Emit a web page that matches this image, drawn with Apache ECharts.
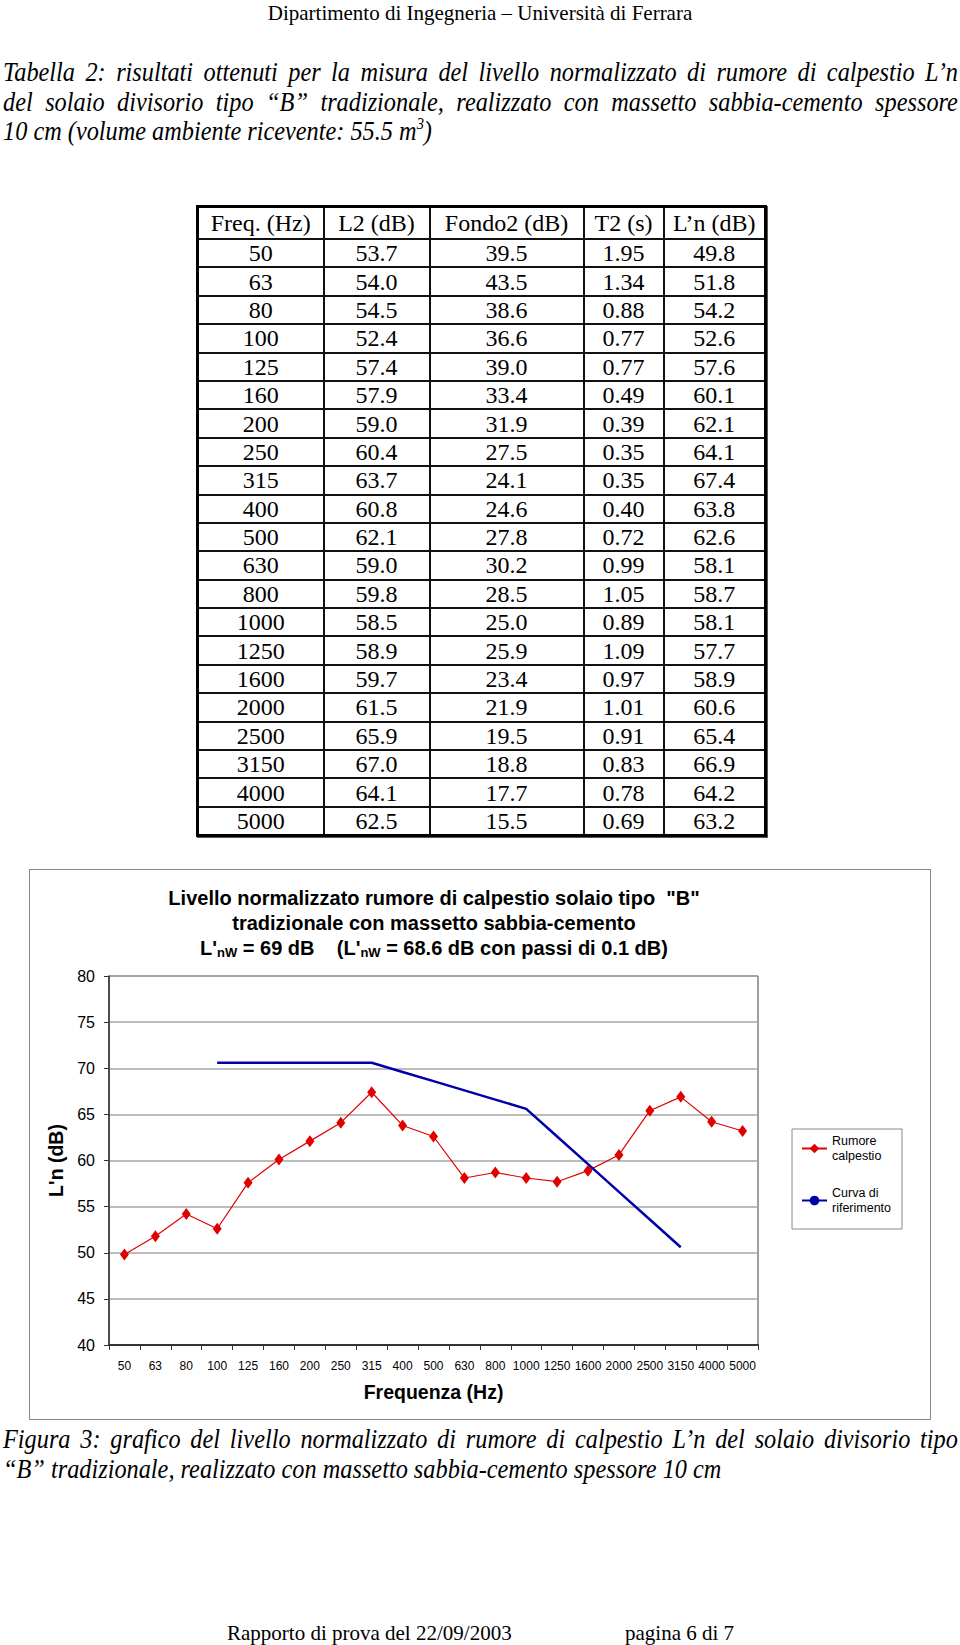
<!DOCTYPE html>
<html><head><meta charset="utf-8">
<script src="https://cdn.jsdelivr.net/npm/echarts@6/dist/echarts.min.js"></script>
<style>
html,body{margin:0;padding:0;background:#fff;}
body{width:960px;height:1645px;position:relative;overflow:hidden;font-family:"Liberation Serif","Times New Roman",serif;color:#000;}
#hdr{position:absolute;left:0;top:0;width:960px;text-align:center;font-size:21px;line-height:26px;}
.cap{position:absolute;left:3px;width:1061px;font-style:italic;font-size:27px;line-height:29.5px;transform:scaleX(0.9);transform-origin:0 0;}
.cap div{white-space:nowrap;}
.cap .j{text-align:justify;text-align-last:justify;}
.cap sup{font-size:16px;vertical-align:11px;line-height:0;}
#tbl{position:absolute;left:196px;top:205px;border-collapse:collapse;table-layout:fixed;width:568px;font-size:24px;border:3px solid #000;box-shadow:1px 1px 0 #555;}
#tbl td{border:2px solid #111;text-align:center;padding:0;line-height:24px;}
#tbl tr.h td{height:30px;}
#tbl tr.d td{height:26.4px;}
#chartbox{position:absolute;left:29px;top:869px;width:902px;height:551px;border:1px solid #8a8a8a;box-sizing:border-box;}
#chart{width:900px;height:549px;}
.foot{position:absolute;top:1620px;font-size:21px;line-height:26px;}
</style></head>
<body>
<div id="hdr">Dipartimento di Ingegneria – Università di Ferrara</div>
<div class="cap" style="top:58px">
<div class="j">Tabella 2: risultati ottenuti per la misura del livello normalizzato di rumore di calpestio L’n</div>
<div class="j">del solaio divisorio tipo “B” tradizionale, realizzato con massetto sabbia-cemento spessore</div>
<div>10 cm (volume ambiente ricevente: 55.5 m<sup>3</sup>)</div>
</div>
<table id="tbl"></table>
<div id="chartbox"><div id="chart"></div></div>
<div class="cap" style="top:1425px">
<div class="j">Figura 3: grafico del livello normalizzato di rumore di calpestio L’n del solaio divisorio tipo</div>
<div>“B” tradizionale, realizzato con massetto sabbia-cemento spessore 10 cm</div>
</div>
<div class="foot" style="left:227px">Rapporto di prova del 22/09/2003</div>
<div class="foot" style="left:625px">pagina 6 di 7</div>
<script>
// ---- data ----
var tableHeader = ["Freq. (Hz)", "L2 (dB)", "Fondo2 (dB)", "T2 (s)", "L’n (dB)"];
var freq = ["50","63","80","100","125","160","200","250","315","400","500","630","800","1000","1250","1600","2000","2500","3150","4000","5000"];
var l2 = ["53.7","54.0","54.5","52.4","57.4","57.9","59.0","60.4","63.7","60.8","62.1","59.0","59.8","58.5","58.9","59.7","61.5","65.9","67.0","64.1","62.5"];
var fondo2 = ["39.5","43.5","38.6","36.6","39.0","33.4","31.9","27.5","24.1","24.6","27.8","30.2","28.5","25.0","25.9","23.4","21.9","19.5","18.8","17.7","15.5"];
var t2 = ["1.95","1.34","0.88","0.77","0.77","0.49","0.39","0.35","0.35","0.40","0.72","0.99","1.05","0.89","1.09","0.97","1.01","0.91","0.83","0.78","0.69"];
var lnValues = [49.8,51.8,54.2,52.6,57.6,60.1,62.1,64.1,67.4,63.8,62.6,58.1,58.7,58.1,57.7,58.9,60.6,65.4,66.9,64.2,63.2];
var refCurve = [null,null,null,70.6,70.6,70.6,70.6,70.6,70.6,69.6,68.6,67.6,66.6,65.6,62.6,59.6,56.6,53.6,50.6,null,null];
var yTicks = {min:40, max:80, interval:5};
var seriesNames = ["Rumore\ncalpestio", "Curva di\nriferimento"];

// ---- table ----
var colW = [126,106,154,80,102];
var tbl = document.getElementById('tbl');
var cg = document.createElement('colgroup');
colW.forEach(function(w){var c=document.createElement('col');c.style.width=w+'px';cg.appendChild(c);});
tbl.appendChild(cg);
var tr = document.createElement('tr'); tr.className='h';
tableHeader.forEach(function(h){var td=document.createElement('td');td.textContent=h;tr.appendChild(td);});
tbl.appendChild(tr);
for (var i=0;i<freq.length;i++){
  tr=document.createElement('tr'); tr.className='d';
  [freq[i], l2[i], fondo2[i], t2[i], lnValues[i].toFixed(1)].forEach(function(v){var td=document.createElement('td');td.textContent=v;tr.appendChild(td);});
  tbl.appendChild(tr);
}

// ---- chart ----
var chart = echarts.init(document.getElementById('chart'), null, {renderer:'svg'});
var sans = 'Liberation Sans, Arial, sans-serif';
var titleX = 404;
chart.setOption({
  animation:false,
  backgroundColor:'#fff',
  textStyle:{fontFamily:sans},
  grid:{left:79, top:106, width:649, height:369, show:true, borderColor:'#404040', borderWidth:1, containLabel:false},
  graphic:[
    {type:'text', style:{x:titleX, y:28, align:'center', verticalAlign:'middle', text:'Livello normalizzato rumore di calpestio solaio tipo  "B"', font:'bold 20px Liberation Sans', fill:'#000'}},
    {type:'text', style:{x:titleX, y:53, align:'center', verticalAlign:'middle', text:'tradizionale con massetto sabbia-cemento', font:'bold 20px Liberation Sans', fill:'#000'}},
    {type:'text', style:{x:titleX, y:78, align:'center', verticalAlign:'middle',
      text:"{b|L'}{s|nW}{b| = 69 dB    (L'}{s|nW}{b| = 68.6 dB con passi di 0.1 dB)}",
      rich:{b:{fontSize:20, fontWeight:'bold', fontFamily:sans, fill:'#000'}, s:{fontSize:13, fontWeight:'bold', fontFamily:sans, fill:'#000', padding:[9,0,0,0]}}
    }},
    {type:'rect', shape:{x:762, y:259, width:110, height:100}, style:{fill:'none', stroke:'#8a8a8a', lineWidth:1}, z:-1}
  ],
  legend:{
    orient:'vertical', left:771, top:256, padding:0, itemGap:7,
    itemWidth:25, itemHeight:12,
    textStyle:{fontSize:12.5, lineHeight:15, color:'#000', fontFamily:sans, padding:[15,0,0,0]},
    data:seriesNames
  },
  xAxis:{
    type:'category', data:freq, boundaryGap:true,
    name:'Frequenza (Hz)', nameLocation:'middle', nameGap:37,
    nameTextStyle:{fontSize:19.5, fontWeight:'bold', color:'#000', fontFamily:sans},
    axisLine:{lineStyle:{color:'#333', width:2}},
    axisTick:{show:true, length:5, inside:false, alignWithLabel:false, interval:0, lineStyle:{color:'#333'}},
    axisLabel:{interval:0, fontSize:12, color:'#000', margin:15, fontFamily:sans},
    splitLine:{show:false}
  },
  yAxis:{
    type:'value', min:yTicks.min, max:yTicks.max, interval:yTicks.interval,
    name:"L'n (dB)", nameLocation:'middle', nameGap:41,
    nameTextStyle:{fontSize:19.5, fontWeight:'bold', color:'#000', fontFamily:sans},
    axisLine:{show:true, lineStyle:{color:'#333', width:1.5}},
    axisTick:{show:true, length:5, lineStyle:{color:'#333'}},
    axisLabel:{fontSize:16, color:'#000', margin:14, fontFamily:sans},
    splitLine:{show:true, lineStyle:{color:'#a6a6a6', width:1.5}}
  },
  series:[
    {name:seriesNames[0], type:'line', data:lnValues, symbol:'diamond', symbolSize:[9,12],
     itemStyle:{color:'#e00000'}, lineStyle:{color:'#e00000', width:1.2}},
    {name:seriesNames[1], type:'line', data:refCurve, symbol:'none', connectNulls:false,
     itemStyle:{color:'#0000aa'}, lineStyle:{color:'#0000aa', width:2.5}}
  ]
});
</script>
</body></html>
